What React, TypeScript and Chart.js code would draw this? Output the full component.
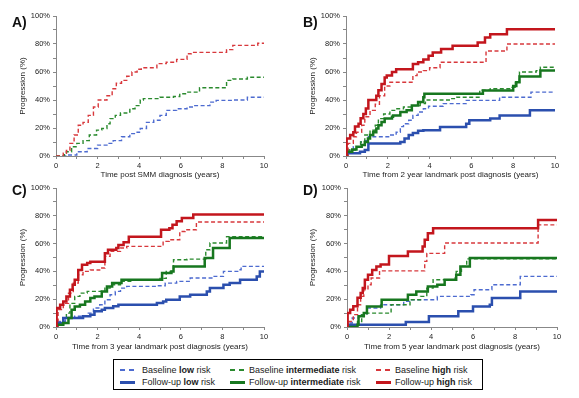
import React, { useEffect, useRef } from 'react';
import { Chart, registerables } from 'chart.js';
Chart.register(...registerables);

type Pt = [number, number];

// ---- Panel A (time post SMM diagnosis) ----
const aBaseHigh: Pt[] = [[0,0],[0.35,2],[0.5,4],[0.67,9],[0.87,15],[1.07,22],[1.3,24],[1.55,29],[1.8,35],[2.03,40],[2.45,43],[2.7,48],[2.9,52],[3.15,54],[3.4,57],[3.65,60],[3.9,62],[4.1,63],[4.85,66],[5.3,67],[5.8,69],[6.3,73],[6.5,74],[8.2,76],[8.5,79],[9.7,80.5],[10,80.5]];
const aBaseInt: Pt[] = [[0,0],[0.4,1],[0.5,3],[0.75,6.6],[1.0,9],[1.3,11],[1.6,15],[1.95,18.5],[2.2,19.6],[2.45,23],[2.6,26.7],[2.85,29],[3.1,30.7],[3.4,31.4],[3.55,33.8],[3.8,36],[4.05,40],[4.2,41],[5.0,42],[5.65,42.5],[5.95,44.5],[6.3,45.6],[6.9,48.7],[8.2,54],[8.5,55],[9.2,56.3],[10,56.3]];
const aBaseLow: Pt[] = [[0,0],[0.5,0.7],[1.0,3],[1.5,5.4],[2.0,7.8],[2.45,9],[2.75,11],[3.15,13.7],[3.55,16],[3.9,17],[4.05,19.6],[4.35,24],[4.7,25.5],[5.0,29],[5.3,32.6],[5.8,33.8],[6.3,35],[6.6,36],[7.4,38.5],[7.7,39.7],[8.5,40],[9.2,42],[10,42]];

// ---- Panel B (2 year landmark) ----
const bFuHigh: Pt[] = [[0,0],[0.03,12.5],[0.2,15],[0.35,17],[0.43,21],[0.6,23],[0.7,27],[0.83,30],[0.95,34],[1.07,40],[1.45,43],[1.55,47],[1.7,51.5],[1.85,56],[1.95,57.5],[2.2,60],[2.4,62],[3.2,65.7],[3.45,67],[3.7,69],[3.95,71.6],[4.15,74],[4.55,76.4],[5.1,78.7],[6.3,81],[6.65,84.6],[6.9,87],[7.7,90.5],[10,90.5]];
const bBaseHigh: Pt[] = [[0,0],[0.1,9],[0.35,13.7],[0.5,17],[0.75,22],[0.9,28],[1.15,32.6],[1.4,37],[1.6,43],[1.85,50],[2.1,52.7],[3.2,57.4],[3.4,60],[3.7,61],[4.0,63],[4.5,67],[6.7,75],[7.7,80],[10,80]];
const bFuInt: Pt[] = [[0,0],[0.03,3],[0.3,4.7],[0.5,6.6],[0.75,7.8],[0.9,10],[1.05,12.5],[1.15,15],[1.3,17],[1.45,19.6],[1.55,22],[1.7,24.3],[1.85,26.7],[2.2,28],[2.25,29],[2.6,31.4],[2.9,32.6],[3.15,36],[3.45,38.5],[3.7,42],[3.75,44.4],[6.55,46.8],[8.0,50],[8.15,52.7],[8.3,56.7],[9.3,61],[10,61]];
const bBaseInt: Pt[] = [[0,0],[0.1,4.3],[0.45,6.6],[0.7,10],[0.9,15],[1.15,18.4],[1.4,22],[1.55,26.7],[1.8,30],[2.1,32.6],[2.4,33.8],[2.75,35],[3.2,36],[3.55,37.4],[3.8,40],[5.0,41],[5.3,42],[6.4,47],[6.9,48],[7.9,49],[8.1,52.7],[8.3,60],[9.1,61],[9.3,63.4],[10,63.4]];
const bFuLow: Pt[] = [[0,0],[0.03,2],[0.67,3],[0.9,4.3],[1.07,9],[2.6,10],[2.8,12.5],[3.0,15],[3.2,16.5],[3.45,18],[3.7,18.4],[4.5,20.8],[5.75,23],[5.9,25.5],[6.9,26.7],[7.35,29],[8.8,32.6],[10,32.6]];
const bBaseLow: Pt[] = [[0,0],[0.1,4.3],[0.35,6.6],[0.7,10],[0.9,11],[1.07,13.7],[2.1,15],[2.4,17],[2.6,21],[2.75,23],[3.0,25.5],[3.2,29],[3.45,31.4],[3.7,33.8],[3.95,35.5],[4.65,37.4],[5.75,39.7],[7.35,42],[8.85,45.6],[10,45.6]];

// ---- Panel C (3 year landmark) ----
const cFuHigh: Pt[] = [[0,0],[0.03,13.6],[0.2,16],[0.35,18.4],[0.5,22],[0.67,26.8],[0.8,30.4],[0.9,34],[1.07,41],[1.25,44.8],[1.5,46],[1.65,47],[2.35,53],[2.5,55.5],[2.9,56.8],[3.0,59],[3.25,61],[3.5,65],[5.05,70],[5.45,71],[5.6,73.5],[5.8,76],[6.05,78.4],[6.6,81],[10,81]];
const cBaseHigh: Pt[] = [[0,0],[0.1,12.5],[0.35,17],[0.6,24.4],[0.83,31.6],[1.07,37.6],[1.3,40],[1.65,41],[2.1,42.4],[2.35,50.8],[2.6,54.4],[3.1,56.8],[3.4,58],[5.15,61.6],[5.45,62.8],[5.95,68.7],[6.2,70],[6.75,75.5],[10,75.5]];
const cFuInt: Pt[] = [[0,0],[0.03,1.7],[0.35,2.9],[0.6,6.5],[0.75,12.5],[0.9,14.8],[1.15,16],[1.4,18.4],[1.65,20.8],[1.85,22],[2.2,25.6],[2.45,29.2],[2.7,31.6],[3.15,34],[5.1,38.8],[5.55,40],[5.65,43.6],[7.15,49.6],[7.55,56.8],[8.35,64],[10,64]];
const cBaseInt: Pt[] = [[0,0],[0.1,2.9],[0.35,6.5],[0.5,10],[0.67,17],[0.9,22],[1.15,24.4],[1.5,25.6],[2.35,28],[2.6,30.4],[3.1,32.8],[3.7,34],[5.0,35],[5.3,40],[5.65,48.4],[6.3,48.8],[7.2,55.6],[7.4,60.4],[8.2,65],[10,65]];
const cFuLow: Pt[] = [[0,0],[0.03,2.9],[0.35,6.5],[1.3,7.7],[1.65,8.9],[1.85,11.3],[2.2,12.5],[2.35,13.7],[2.75,14.9],[3.0,16],[4.85,17.2],[5.15,18.4],[5.3,19.6],[5.95,22],[6.45,23.2],[7.25,25.6],[7.4,28],[8.05,30.4],[8.35,31.6],[8.85,34],[9.65,36.4],[9.8,40],[10,40]];
const cBaseLow: Pt[] = [[0,0],[0.1,4],[0.45,6.5],[0.9,7.7],[1.5,10],[1.8,13.7],[2.1,16],[2.35,19.6],[2.6,23.2],[2.85,25.6],[3.1,28],[3.4,29.2],[4.85,29.7],[5.25,31.6],[5.8,32.8],[6.45,35.2],[7.55,36.4],[8.05,40],[8.85,41.2],[8.9,43.6],[10,43.6]];

// ---- Panel D (5 year landmark) ----
const dFuHigh: Pt[] = [[0,0],[0.03,10],[0.15,12.5],[0.3,15],[0.5,21],[0.65,24.4],[0.75,28],[0.85,34],[1.0,37.6],[1.2,41],[1.4,43.6],[1.6,45],[2.0,51],[2.9,54.4],[3.6,58],[3.7,62.8],[3.85,67.5],[4.1,71],[9.1,77],[10,77]];
const dBaseHigh: Pt[] = [[0,0],[0.1,4],[0.3,8.9],[0.5,16],[0.65,22],[0.8,26.8],[1.0,30.4],[1.15,35.2],[1.55,40.4],[3.7,47.2],[3.8,53],[4.65,60.4],[9.1,73.5],[10,73.5]];
const dFuInt: Pt[] = [[0,0],[0.5,1.7],[0.55,7.7],[0.8,10],[0.95,14.8],[1.65,19.6],[2.9,23.2],[3.3,25.6],[3.85,29.2],[4.3,30.4],[4.65,34],[5.2,37.6],[5.4,43.6],[5.85,49.6],[10,49.6]];
const dBaseInt: Pt[] = [[0,0],[0.5,4],[0.7,8.9],[0.95,10],[2.1,16],[3.0,19.6],[3.5,22],[3.8,28],[4.1,34],[5.15,35.2],[5.2,40],[5.45,43.6],[5.7,49],[10,49]];
const dFuLow: Pt[] = [[0,0],[0.1,1.7],[2.8,3.6],[3.9,7.7],[5.3,11.3],[6.0,14.8],[6.8,16],[6.9,20.8],[8.25,25.6],[10,25.6]];
const dBaseLow: Pt[] = [[0,0],[0.1,2.9],[0.25,6.5],[0.55,8.9],[0.95,13.7],[1.6,16],[2.7,18.4],[3.0,19.6],[4.3,22],[5.9,23.2],[6.05,26.8],[6.9,30.4],[8.25,36.4],[10,36.4]];

const xTitles = [
  'Time post SMM diagnosis (years)',
  'Time from 2 year landmark post diagnosis (years)',
  'Time from 3 year landmark post diagnosis (years)',
  'Time from 5 year landmark post diagnosis (years)',
];
const panelLetters = ['A)', 'B)', 'C)', 'D)'];
const yTitle = 'Progression (%)';

const FONT = '"Liberation Sans", Arial, Helvetica, sans-serif';
const RED = '#c3161d', RED_D = '#d8383c';
const GREEN = '#17771f', GREEN_D = '#2a8a2e';
const BLUE = '#2b4fae', BLUE_D = '#4d6bd0';

type Series = { data: Pt[]; color: string; dashed: boolean };
type Spec = {
  left: number; top: number; width: number; height: number;
  padding: { left: number; right: number; top: number; bottom: number };
  yWidth: number; xHeight: number; xTitle: string; series: Series[];
};

const fu = (data: Pt[], color: string): Series => ({ data, color, dashed: false });
const bl = (data: Pt[], color: string): Series => ({ data, color, dashed: true });

const specs: Spec[] = [
  { left: 0, top: 0, width: 290, height: 190, padding: { left: 16, right: 26, top: 16, bottom: 8 }, yWidth: 40, xHeight: 26, xTitle: xTitles[0],
    series: [bl(aBaseHigh, RED_D), bl(aBaseInt, GREEN_D), bl(aBaseLow, BLUE_D)] },
  { left: 290, top: 0, width: 289, height: 190, padding: { left: 16, right: 24, top: 16, bottom: 8 }, yWidth: 40, xHeight: 26, xTitle: xTitles[1],
    series: [fu(bFuHigh, RED), fu(bFuInt, GREEN), fu(bFuLow, BLUE), bl(bBaseHigh, RED_D), bl(bBaseInt, GREEN_D), bl(bBaseLow, BLUE_D)] },
  { left: 0, top: 180, width: 290, height: 180, padding: { left: 16, right: 26, top: 8, bottom: 6 }, yWidth: 40, xHeight: 27, xTitle: xTitles[2],
    series: [fu(cFuHigh, RED), fu(cFuInt, GREEN), fu(cFuLow, BLUE), bl(cBaseHigh, RED_D), bl(cBaseInt, GREEN_D), bl(cBaseLow, BLUE_D)] },
  { left: 290, top: 180, width: 289, height: 180, padding: { left: 16, right: 22, top: 8, bottom: 6 }, yWidth: 41, xHeight: 27, xTitle: xTitles[3],
    series: [fu(dFuHigh, RED), fu(dFuInt, GREEN), fu(dFuLow, BLUE), bl(dBaseHigh, RED_D), bl(dBaseInt, GREEN_D), bl(dBaseLow, BLUE_D)] },
];

function Panel({ spec }: { spec: Spec }) {
  const ref = useRef<HTMLCanvasElement>(null);
  useEffect(() => {
    const chart = new Chart(ref.current!, {
      type: 'line',
      data: {
        datasets: spec.series.map((s) => ({
          data: s.data.map(([x, y]) => ({ x, y })),
          borderColor: s.color,
          backgroundColor: s.color,
          borderWidth: s.dashed ? 1.4 : 2.5,
          borderDash: s.dashed ? [4, 2.5] : [],
          stepped: 'before' as const,
          pointRadius: 0,
          fill: false,
          tension: 0,
        })),
      },
      options: {
        responsive: false,
        animation: false,
        events: [],
        layout: { padding: spec.padding },
        plugins: { legend: { display: false }, tooltip: { enabled: false } },
        scales: {
          x: {
            type: 'linear', min: 0, max: 10,
            afterFit: (s: any) => { s.height = spec.xHeight; },
            ticks: {
              stepSize: 1, autoSkip: false, maxRotation: 0, padding: 2, color: '#222',
              font: { family: FONT, size: 7.5 },
              callback: (v: any) => (Number(v) % 2 === 0 ? String(v) : ''),
            },
            grid: { display: true, drawOnChartArea: false, tickLength: 3, color: '#888' },
            border: { display: true, color: '#888', width: 1 },
            title: { display: true, text: spec.xTitle, color: '#222', font: { family: FONT, size: 8 }, padding: { top: 2, bottom: 2 } },
          },
          y: {
            type: 'linear', min: 0, max: 100,
            afterFit: (s: any) => { s.width = spec.yWidth; },
            ticks: {
              stepSize: 10, autoSkip: false, padding: 3, color: '#222',
              font: { family: FONT, size: 7.5 },
              callback: (v: any) => (Number(v) % 20 === 0 ? v + '%' : ''),
            },
            grid: { display: true, drawOnChartArea: false, tickLength: 3, color: '#888' },
            border: { display: true, color: '#888', width: 1 },
            title: { display: true, text: yTitle, color: '#222', font: { family: FONT, size: 8 }, padding: { top: 2, bottom: 2 } },
          },
        },
      },
    } as any);
    return () => chart.destroy();
  }, [spec]);
  return (
    <canvas
      ref={ref}
      width={spec.width}
      height={spec.height}
      style={{ position: 'absolute', left: spec.left, top: spec.top, width: spec.width, height: spec.height }}
    />
  );
}

const legendCols = [
  { sampleLeft: 120, textLeft: 142, word: 'low', color: BLUE, dcolor: BLUE_D },
  { sampleLeft: 230, textLeft: 249, word: 'intermediate', color: GREEN, dcolor: GREEN_D },
  { sampleLeft: 376, textLeft: 395, word: 'high', color: RED, dcolor: RED_D },
];

function LegendItems() {
  const items: React.ReactNode[] = [];
  legendCols.forEach((c, i) => {
    items.push(
      <div key={'bd1' + i} style={{ position: 'absolute', left: c.sampleLeft, top: 369, width: 5, height: 1.5, background: c.dcolor }} />,
      <div key={'bd2' + i} style={{ position: 'absolute', left: c.sampleLeft + 9, top: 369, width: 5, height: 1.5, background: c.dcolor }} />,
      <div key={'bt' + i} style={{ position: 'absolute', left: c.textLeft, top: 364, lineHeight: '12px', fontSize: 9, fontFamily: FONT, color: '#222', whiteSpace: 'nowrap' }}>
        Baseline <b>{c.word}</b> risk
      </div>,
      <div key={'fs' + i} style={{ position: 'absolute', left: c.sampleLeft, top: 381, width: 15, height: 3, background: c.color }} />,
      <div key={'ft' + i} style={{ position: 'absolute', left: c.textLeft, top: 376, lineHeight: '12px', fontSize: 9, fontFamily: FONT, color: '#222', whiteSpace: 'nowrap' }}>
        Follow-up <b>{c.word}</b> risk
      </div>
    );
  });
  return <>{items}</>;
}

export default function App() {
  const labelPos = [
    [12, 15], [303, 15], [12, 183], [303, 183],
  ];
  return (
    <div style={{ position: 'absolute', left: 0, top: 0, width: 579, height: 398, background: '#fff', overflow: 'hidden' }}>
      {specs.map((s, i) => <Panel key={i} spec={s} />)}
      {panelLetters.map((t, i) => (
        <div key={t} style={{ position: 'absolute', left: labelPos[i][0], top: labelPos[i][1], fontFamily: FONT, fontWeight: 'bold', fontSize: 14, lineHeight: '14px', color: '#111' }}>{t}</div>
      ))}
      <div style={{ position: 'absolute', left: 113, top: 359, width: 370, height: 31, border: '1px solid #000', boxSizing: 'border-box', background: '#fff' }} />
      <LegendItems />
    </div>
  );
}
